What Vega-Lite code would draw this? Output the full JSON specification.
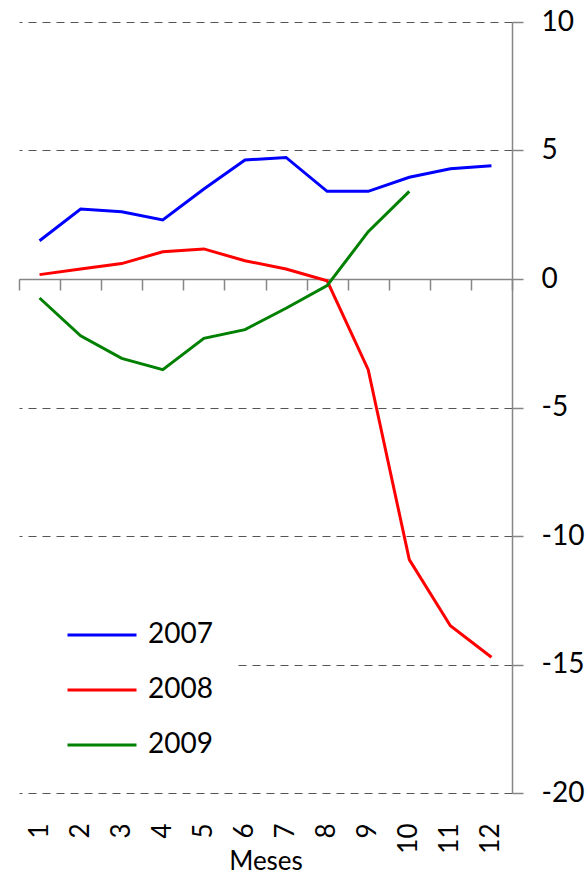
{
  "$schema": "https://vega.github.io/schema/vega-lite/v6.json",
  "width": 493,
  "height": 771,
  "autosize": {"type": "none"},
  "padding": {"left": 19, "top": 22, "right": 75, "bottom": 84},
  "background": "white",
  "config": {
    "view": {"stroke": null},
    "font": "Lato",
    "axis": {"labelFont": "Lato", "titleFont": "Lato", "labelColor": "black", "titleColor": "black"}
  },
  "data": {
    "values": [
      {"mes": 1, "anio": "2007", "valor": 1.49},
      {"mes": 2, "anio": "2007", "valor": 2.72},
      {"mes": 3, "anio": "2007", "valor": 2.62},
      {"mes": 4, "anio": "2007", "valor": 2.30},
      {"mes": 5, "anio": "2007", "valor": 3.50},
      {"mes": 6, "anio": "2007", "valor": 4.63},
      {"mes": 7, "anio": "2007", "valor": 4.73},
      {"mes": 8, "anio": "2007", "valor": 3.41},
      {"mes": 9, "anio": "2007", "valor": 3.41},
      {"mes": 10, "anio": "2007", "valor": 3.96},
      {"mes": 11, "anio": "2007", "valor": 4.29},
      {"mes": 12, "anio": "2007", "valor": 4.41},
      {"mes": 1, "anio": "2008", "valor": 0.17},
      {"mes": 2, "anio": "2008", "valor": 0.39},
      {"mes": 3, "anio": "2008", "valor": 0.60},
      {"mes": 4, "anio": "2008", "valor": 1.06},
      {"mes": 5, "anio": "2008", "valor": 1.17},
      {"mes": 6, "anio": "2008", "valor": 0.71},
      {"mes": 7, "anio": "2008", "valor": 0.39},
      {"mes": 8, "anio": "2008", "valor": -0.07},
      {"mes": 9, "anio": "2008", "valor": -3.53},
      {"mes": 10, "anio": "2008", "valor": -10.92},
      {"mes": 11, "anio": "2008", "valor": -13.49},
      {"mes": 12, "anio": "2008", "valor": -14.72},
      {"mes": 1, "anio": "2009", "valor": -0.74},
      {"mes": 2, "anio": "2009", "valor": -2.21},
      {"mes": 3, "anio": "2009", "valor": -3.09},
      {"mes": 4, "anio": "2009", "valor": -3.53},
      {"mes": 5, "anio": "2009", "valor": -2.31},
      {"mes": 6, "anio": "2009", "valor": -1.97},
      {"mes": 7, "anio": "2009", "valor": -1.14},
      {"mes": 8, "anio": "2009", "valor": -0.26},
      {"mes": 9, "anio": "2009", "valor": 1.84},
      {"mes": 10, "anio": "2009", "valor": 3.41}
    ]
  },
  "layer": [
    {
      "mark": {"type": "line", "opacity": 0},
      "encoding": {
        "x": {
          "field": "mes", "type": "ordinal",
          "scale": {"type": "band", "paddingInner": 0, "paddingOuter": 0},
          "axis": {
            "orient": "bottom", "offset": -514, "labels": false, "title": null,
            "ticks": true, "tickBand": "extent", "tickSize": 11, "tickColor": "#868686", "tickWidth": 1.5,
            "domain": true, "domainColor": "#868686", "domainWidth": 1.5, "grid": false
          }
        },
        "y": {
          "field": "valor", "type": "quantitative",
          "scale": {"domain": [-20, 10], "nice": false},
          "axis": {
            "orient": "right", "values": [-20, -15, -10, -5, 0, 5, 10], "title": null,
            "labelExpr": "'' + datum.value",
            "grid": true, "gridDash": [8, 6], "gridColor": "#555555", "gridWidth": 1.2,
            "domainColor": "#868686", "domainWidth": 1.5, "tickColor": "#868686", "tickWidth": 1.5, "tickSize": 11,
            "labelFontSize": 28, "labelPadding": 18
          }
        },
        "detail": {"field": "anio"}
      }
    },
    {
      "mark": {"type": "line", "strokeWidth": 3},
      "encoding": {
        "x": {
          "field": "mes", "type": "ordinal",
          "scale": {"type": "band", "paddingInner": 0, "paddingOuter": 0},
          "axis": {
            "orient": "bottom", "labelAngle": -90, "labelFontSize": 26, "labelPadding": 30,
            "ticks": false, "domain": false, "grid": false,
            "title": "Meses", "titleFontSize": 26, "titleFontWeight": "normal", "titlePadding": -5
          }
        },
        "y": {
          "field": "valor", "type": "quantitative",
          "scale": {"domain": [-20, 10], "nice": false},
          "axis": {
            "orient": "right", "values": [-20, -15, -10, -5, 0, 5, 10], "title": null,
            "labelExpr": "'' + datum.value",
            "grid": true, "gridDash": [8, 6], "gridColor": "#555555", "gridWidth": 1.2,
            "domainColor": "#868686", "domainWidth": 1.5, "tickColor": "#868686", "tickWidth": 1.5, "tickSize": 11,
            "labelFontSize": 28, "labelPadding": 18
          }
        },
        "color": {
          "field": "anio", "type": "nominal",
          "scale": {"domain": ["2007", "2008", "2009"], "range": ["#0000FF", "#FF0000", "#008000"]},
          "legend": {
            "orient": "none", "legendX": 0, "legendY": 557, "title": null,
            "symbolType": "stroke", "symbolSize": 4761, "symbolStrokeWidth": 3,
            "labelFontSize": 28, "labelFont": "Lato", "labelColor": "black", "labelOffset": 10,
            "rowPadding": 5, "fillColor": "white", "padding": 20, "symbolOffset": 27
          }
        }
      }
    }
  ],
  "resolve": {"axis": {"x": "independent"}}
}
